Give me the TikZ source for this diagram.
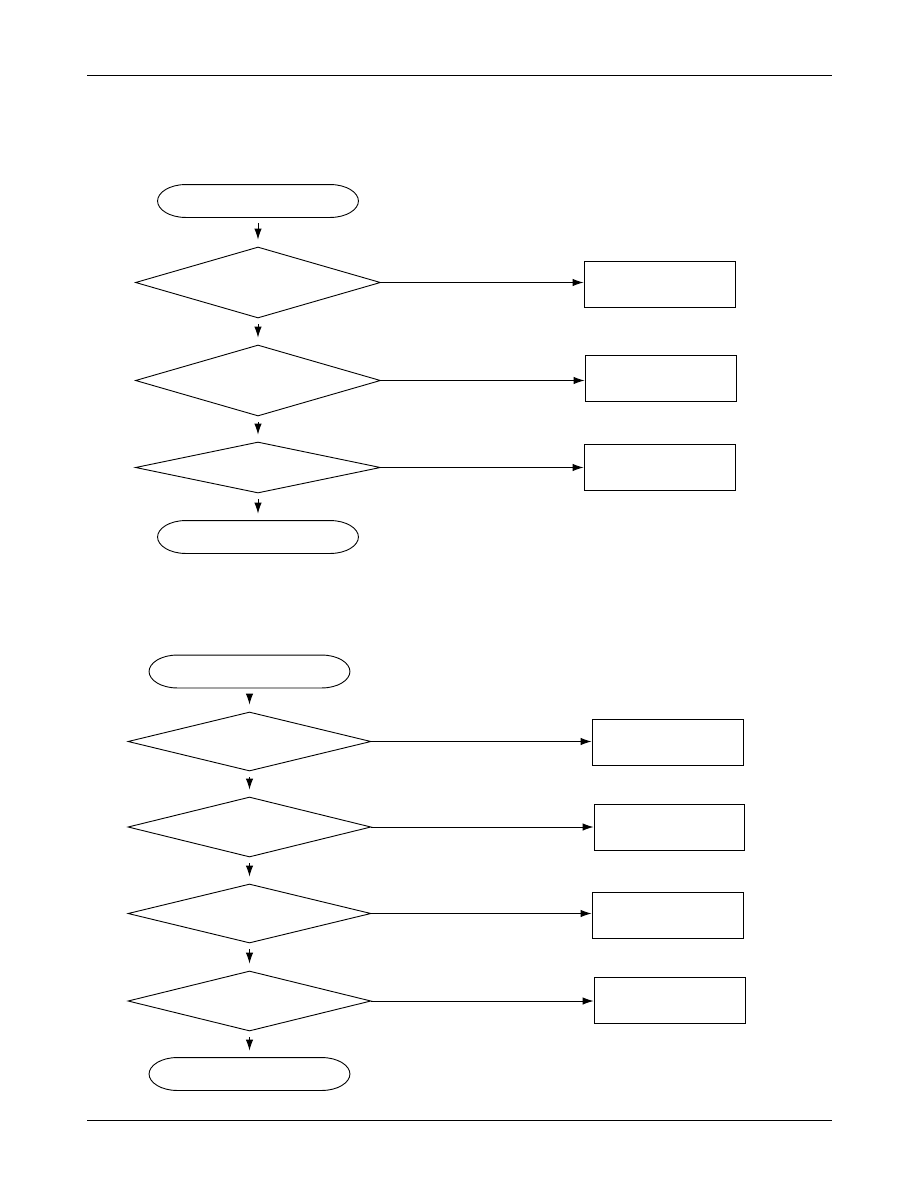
\documentclass[tikz,border=0pt]{standalone}
\usepackage{tikz}
\usetikzlibrary{arrows.meta,shapes.geometric}

\begin{document}
\begin{tikzpicture}[x=1pt,y=-1pt,>={Latex[length=11pt,width=7.5pt]},line width=0.9pt]

\tikzset{
term/.style={minimum width=200pt,minimum height=32pt,inner sep=0pt},
dec/.style={draw,diamond,minimum width=245pt,inner sep=0pt},
res/.style={draw,minimum width=151pt,minimum height=46pt,inner sep=0pt},
a/.style={->},
dn/.style={->,shorten <=6pt,shorten >=7pt}
}

\useasboundingbox (0,0) rectangle (918,1188);
\draw (87,75) -- (832,75);
\draw (87,1120) -- (832,1120);

% first chart
\node[term] (start1) at (258,201) {};
\node[dec,minimum height=71pt] (q1) at (258,282.5) {};
\node[dec,minimum height=71pt] (q2) at (258,380.5) {};
\node[dec,minimum height=51pt] (q3) at (258,467.5) {};
\node[term] (end1) at (258,537) {};

\node[res] (r1) at (659.5,284) {};
\node[res] (r2) at (660.5,378.5) {};
\node[res] (r3) at (659.5,467) {};

\draw[dn] (start1) -- (q1);
\draw[dn] (q1) -- (q2);
\draw[dn] (q2) -- (q3);
\draw[dn] (q3) -- (end1);

\draw[a] (q1.east) -- (q1.east -| r1.west);
\draw[a] (q2.east) -- (q2.east -| r2.west);
\draw[a] (q3.east) -- (q3.east -| r3.west);

% second chart
\node[term] (start2) at (249.5,671.5) {};
\node[dec,minimum width=243pt,minimum height=59pt] (q4) at (249.5,741.5) {};
\node[dec,minimum width=243pt,minimum height=60pt] (q5) at (249.5,827) {};
\node[dec,minimum width=243pt,minimum height=59pt] (q6) at (249.5,913.5) {};
\node[dec,minimum width=243pt,minimum height=60pt] (q7) at (249.5,1001) {};
\node[term] (end2) at (249.5,1074) {};

\node[res] (r4) at (667.5,742) {};
\node[res,minimum width=150pt] (r5) at (669,827.5) {};
\node[res] (r6) at (667.5,915) {};
\node[res] (r7) at (669.5,1000) {};

\draw[dn] (start2) -- (q4);
\draw[dn] (q4) -- (q5);
\draw[dn] (q5) -- (q6);
\draw[dn] (q6) -- (q7);
\draw[dn] (q7) -- (end2);

\draw[a] (q4.east) -- (q4.east -| r4.west);
\draw[a] (q5.east) -- (q5.east -| r5.west);
\draw[a] (q6.east) -- (q6.east -| r6.west);
\draw[a] (q7.east) -- (q7.east -| r7.west);

% terminator outlines with flat oval ends
\foreach \t in {start1,end1,start2,end2}
  \draw (\t.north) -- ([xshift=-28pt]\t.north east)
    .. controls ([xshift=-12.5pt]\t.north east) and ([yshift=8.8pt]\t.east) .. (\t.east)
    .. controls ([yshift=-8.8pt]\t.east) and ([xshift=-12.5pt]\t.south east) .. ([xshift=-28pt]\t.south east)
    -- ([xshift=28pt]\t.south west)
    .. controls ([xshift=12.5pt]\t.south west) and ([yshift=-8.8pt]\t.west) .. (\t.west)
    .. controls ([yshift=8.8pt]\t.west) and ([xshift=12.5pt]\t.north west) .. ([xshift=28pt]\t.north west)
    -- cycle;

\end{tikzpicture}
\end{document}
